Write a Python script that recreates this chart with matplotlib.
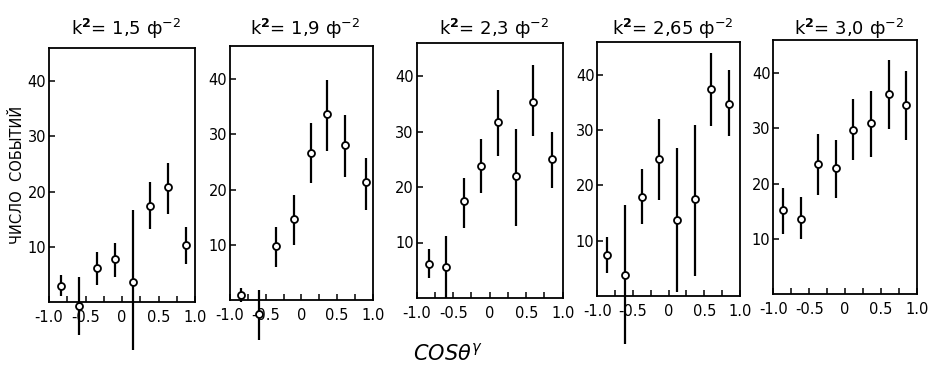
import matplotlib
matplotlib.use("Agg")
import matplotlib.pyplot as plt

plt.rcParams['font.family'] = ['DejaVu Sans Condensed', 'DejaVu Sans']

# k^2 values for each panel
k2_labels = ["1,5", "1,9", "2,3", "2,65", "3,0"]

# cos(theta) positions, counts, and error bar ends per panel
x1 = [-0.83, -0.585, -0.34, -0.10, 0.155, 0.39, 0.635, 0.875]
y1 = [2.9, -0.8, 6.2, 7.7, 3.7, 17.4, 20.9, 10.3]
lo1 = [1.1, -6.0, 3.1, 4.5, -8.7, 13.3, 16.0, 6.9]
hi1 = [4.9, 4.6, 9.1, 10.6, 16.6, 21.8, 25.2, 13.5]

x2 = [-0.85, -0.60, -0.36, -0.11, 0.13, 0.355, 0.615, 0.905]
y2 = [0.9, -2.5, 9.7, 14.7, 26.6, 33.6, 28.1, 21.3]
lo2 = [-0.3, -7.2, 6.0, 10.0, 21.1, 27.0, 22.3, 16.3]
hi2 = [2.1, 1.9, 13.3, 19.0, 32.0, 39.9, 33.5, 25.8]

x3 = [-0.83, -0.595, -0.355, -0.12, 0.115, 0.36, 0.595, 0.86]
y3 = [6.2, 5.6, 17.4, 23.7, 31.8, 22.0, 35.4, 25.0]
lo3 = [3.6, 0.0, 12.7, 18.9, 25.6, 12.9, 29.2, 19.8]
hi3 = [8.9, 11.1, 21.6, 28.6, 37.4, 30.4, 41.9, 30.0]

x4 = [-0.86, -0.615, -0.38, -0.135, 0.115, 0.365, 0.60, 0.845]
y4 = [7.4, 3.8, 17.9, 24.8, 13.8, 17.5, 37.5, 34.8]
lo4 = [4.1, -8.7, 13.1, 17.4, 0.7, 3.7, 30.7, 28.9]
hi4 = [10.6, 16.5, 22.9, 32.1, 26.7, 30.9, 43.9, 40.8]

x5 = [-0.86, -0.62, -0.37, -0.125, 0.115, 0.365, 0.61, 0.845]
y5 = [15.2, 13.5, 23.5, 22.9, 29.7, 30.9, 36.2, 34.3]
lo5 = [10.8, 9.9, 18.0, 17.4, 24.2, 24.9, 29.9, 27.9]
hi5 = [19.2, 17.5, 29.0, 27.9, 35.3, 36.7, 42.4, 40.4]

xs = [x1, x2, x3, x4, x5]
ys = [y1, y2, y3, y4, y5]
los = [lo1, lo2, lo3, lo4, lo5]
his = [hi1, hi2, hi3, hi4, hi5]

xtick_pos = [-1.0, -0.75, -0.5, -0.25, 0.0, 0.25, 0.5, 0.75, 1.0]
xtick_lab = ["-1.0", "", "-0.5", "", "0", "", "0.5", "", "1.0"]
ytick_pos = [10, 20, 30, 40]
ytick_lab = ["10", "20", "30", "40"]

W, H = 930, 377
fig = plt.figure(figsize=(W / 100, H / 100), dpi=100)

# panel boxes in pixels: left, right, top, bottom
boxes = [
    (49, 195, 48, 302),
    (230, 372.7, 46, 300),
    (416.7, 562.7, 42.7, 298),
    (597.3, 740, 41.7, 296),
    (773.3, 916.7, 40, 294),
]

for i, (l, r, t, b) in enumerate(boxes):
    ax = fig.add_axes([l / W, 1 - b / H, (r - l) / W, (b - t) / H])
    x, y, lo, hi = xs[i], ys[i], los[i], his[i]
    yerr = [[yy - a for yy, a in zip(y, lo)], [c - yy for yy, c in zip(y, hi)]]
    eb = ax.errorbar(x, y, yerr=yerr, fmt='o', color='black', ecolor='black',
                     elinewidth=1.6, capsize=0, markersize=5,
                     markerfacecolor='white', markeredgecolor='black',
                     markeredgewidth=1.3, clip_on=False, zorder=3)
    for art in eb.lines[2]:
        art.set_clip_on(False)
    for art in eb.lines[0:1]:
        art.set_clip_on(False)
    ax.set_xlim(-1.0, 1.0)
    ax.set_ylim(0, 46)
    ax.set_xticks(xtick_pos)
    ax.set_xticklabels(xtick_lab)
    ax.set_yticks(ytick_pos)
    ax.set_yticklabels(ytick_lab)
    ax.tick_params(axis='both', direction='in', length=4, width=1.1,
                   labelsize=10.5, colors='black')
    ax.tick_params(axis='x', pad=6)
    ax.tick_params(axis='y', pad=2)
    for s in ax.spines.values():
        s.set_linewidth(1.3)
        s.set_color('black')
    cx = (l + r) / 2 + 4
    fig.text(cx / W, 1 - 35 / H, "k$^{\\mathbf{2}}$= " + k2_labels[i] + " ф$^{-2}$",
             ha='center', va='baseline', fontsize=13, color='black')

fig.text(18 / W, 1 - 175 / H, "ЧИСЛО  СОБЫТИЙ", rotation=90, ha='center',
         va='center', fontsize=10.5, color='black')
fig.text(448 / W, 1 - 353 / H, r"$COS\theta^{\gamma}$", ha='center', va='center',
         fontsize=15, color='black')

fig.savefig("out.png", dpi=100, facecolor='white')
